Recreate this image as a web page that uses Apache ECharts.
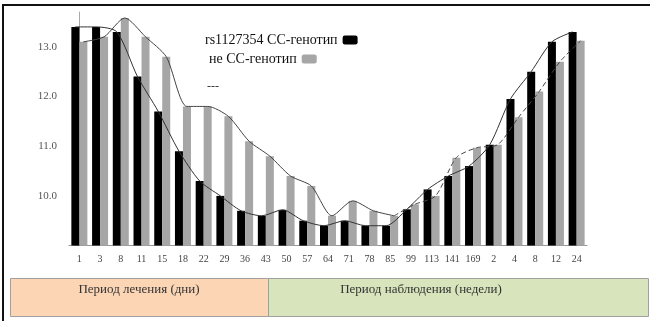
<!DOCTYPE html>
<html>
<head>
<meta charset="utf-8">
<script src="https://cdn.jsdelivr.net/npm/echarts@6/dist/echarts.min.js"></script>
<style>html,body{margin:0;padding:0;background:#fff;}#c{width:650px;height:321px;}</style>
</head>
<body>
<div id="c"></div>
<script>
const categories = ['1','3','8','11','15','18','22','29','36','43','50','57','64','71','78','85','99','113','141','169','2','4','8','12','24'];
const ccValues = [13.4,13.4,13.3,12.4,11.7,10.9,10.3,10.0,9.7,9.6,9.72,9.5,9.4,9.5,9.4,9.4,9.73,10.13,10.4,10.6,11.03,11.95,12.5,13.1,13.3];
const nonCcValues = [13.1,13.2,13.58,13.2,12.8,11.8,11.8,11.6,11.1,10.8,10.4,10.2,9.6,9.9,9.7,9.6,9.83,10.0,10.77,10.97,11.03,11.58,12.1,12.7,13.12];
const yTicks = [10,11,12,13];
const ccName = 'rs1127354 CC-генотип';
const nonCcName = 'не CC-генотип';
const periodTreatment = 'Период лечения (дни)';
const periodObservation = 'Период наблюдения (недели)';
const treatmentCount = 16;

const off = 0.193;
const serif = '"Liberation Serif", "DejaVu Serif", serif';
const ccLine = ccValues.map((v, i) => [i - off, v]);
const grayLineSolid = nonCcValues.map((v, i) => i < treatmentCount ? [i + off, v] : [i + off, null]);
const grayLineDashed = nonCcValues.map((v, i) => i >= treatmentCount - 1 ? [i + off, v] : [i + off, null]);

const legendText = {fontFamily: serif, fontSize: 14, color: '#111', fontWeight: 'normal'};
const chart = echarts.init(document.getElementById('c'), null, {renderer: 'canvas'});
chart.setOption({
  animation: false,
  backgroundColor: '#fff',
  grid: {left: 69, right: 63, top: 12, bottom: 75.4, containLabel: false},
  legend: [{
    data: [ccName], left: 200, top: 28, align: 'right',
    itemWidth: 15, itemHeight: 9, textStyle: legendText
  }, {
    data: [nonCcName], left: 204, top: 47, align: 'right',
    itemWidth: 15, itemHeight: 9, textStyle: legendText
  }],
  xAxis: [{
    type: 'category', data: categories,
    axisLine: {lineStyle: {color: '#999'}},
    axisTick: {alignWithLabel: true, length: 4, lineStyle: {color: '#777'}},
    axisLabel: {fontFamily: serif, fontSize: 10, color: '#444', margin: 9, interval: 0}
  }, {
    type: 'value', min: -0.5, max: 24.5, show: false
  }],
  yAxis: {
    type: 'value', min: 9, max: 13.7,
    splitLine: {show: false},
    axisLine: {show: true, lineStyle: {color: '#aaa'}},
    axisTick: {show: true, length: 5, lineStyle: {color: '#777'}, customValues: [9].concat(yTicks)},
    axisLabel: {fontFamily: serif, fontSize: 11, color: '#555', margin: 12, customValues: yTicks,
      formatter: v => v.toFixed(1)}
  },
  series: [
    {name: ccName, type: 'bar', data: ccValues, barWidth: 8, barGap: '0%', itemStyle: {color: '#000'}},
    {name: nonCcName, type: 'bar', data: nonCcValues, barWidth: 8, barGap: '0%', itemStyle: {color: '#a6a6a6'}},
    {type: 'line', xAxisIndex: 1, data: ccLine, symbol: 'none', smooth: 0.25, lineStyle: {color: '#333', width: 1}},
    {type: 'line', xAxisIndex: 1, data: grayLineSolid, symbol: 'none', smooth: 0.25, connectNulls: false, lineStyle: {color: '#444', width: 1}},
    {type: 'line', xAxisIndex: 1, data: grayLineDashed, symbol: 'none', smooth: 0.25, connectNulls: false, lineStyle: {color: '#444', width: 1, type: [5, 3]}}
  ],
  graphic: [
    {type: 'line', shape: {x1: 2, y1: 5, x2: 650, y2: 5}, style: {stroke: '#111', lineWidth: 2}},
    {type: 'line', shape: {x1: 3, y1: 4, x2: 3, y2: 321}, style: {stroke: '#111', lineWidth: 2}},
    {type: 'text', left: 207, top: 81, style: {text: '---', font: '12px ' + serif, fill: '#333'}},
    {type: 'rect', shape: {x: 10.5, y: 278.5, width: 258, height: 38}, style: {fill: '#fcd5b5', stroke: '#a0a0a0', lineWidth: 1}},
    {type: 'rect', shape: {x: 268.5, y: 278.5, width: 380, height: 38}, style: {fill: '#d7e4bc', stroke: '#a0a0a0', lineWidth: 1}},
    {type: 'text', x: 139, y: 290, style: {text: periodTreatment, font: '13px ' + serif, fill: '#333', align: 'center', verticalAlign: 'middle'}},
    {type: 'text', x: 421, y: 290, style: {text: periodObservation, font: '13px ' + serif, fill: '#333', align: 'center', verticalAlign: 'middle'}}
  ]
});
</script>
</body>
</html>
